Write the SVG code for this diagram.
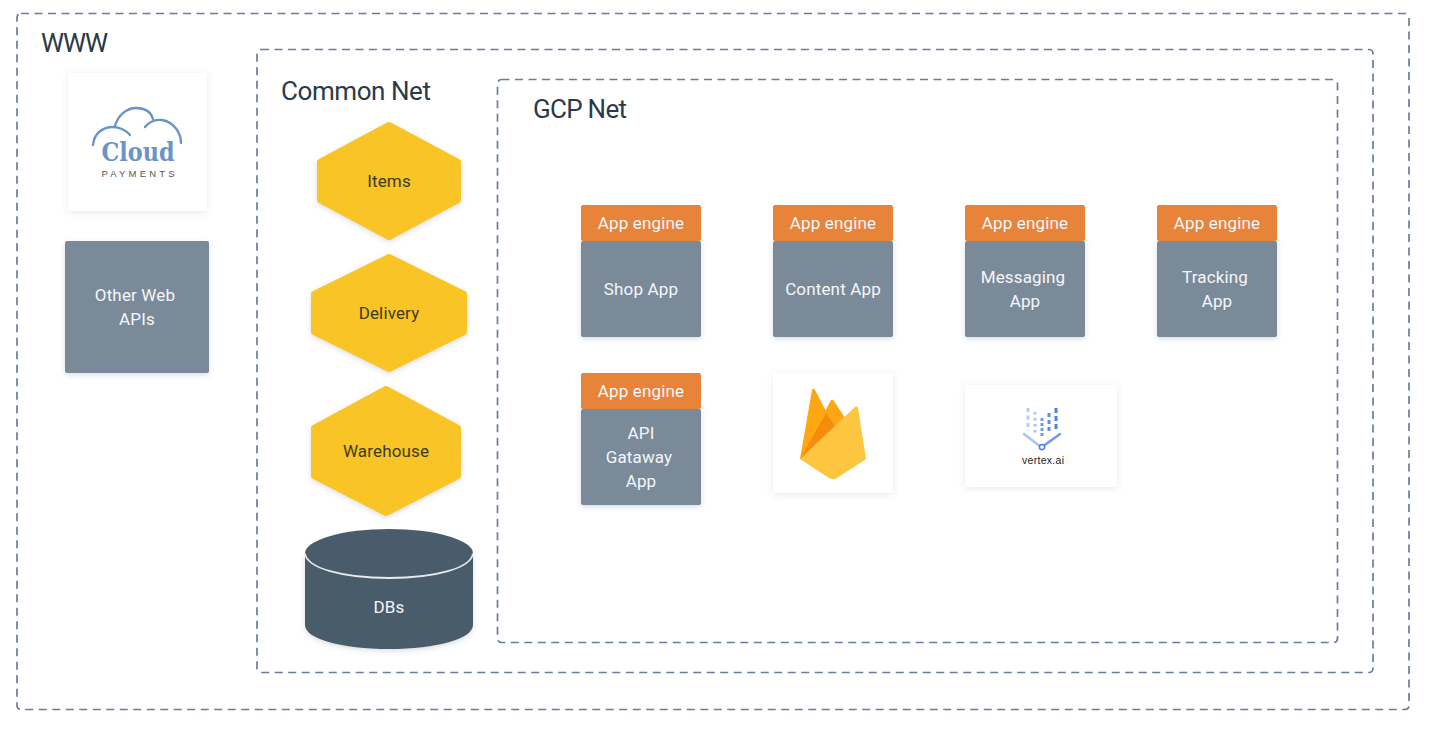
<svg xmlns="http://www.w3.org/2000/svg" width="1434" height="730" viewBox="0 0 1434 730">
<style>
text{font-family:"Roboto","Liberation Sans",sans-serif;text-anchor:middle}
.zone{fill:#fff;stroke:#6a7d9c;stroke-width:1.7;stroke-dasharray:8 5.5}
.zl{font-size:26px;fill:#2b3a48;text-anchor:start}
.t{font-size:17px;fill:#f4f7fa;letter-spacing:.15px}
.d{font-size:17px;fill:#3d3a22;letter-spacing:.15px}
.card{fill:#7a8a99;filter:url(#s)}
.tag{fill:#e8833a}
.hex{fill:#f8c425;stroke:#f8c425;stroke-width:6;stroke-linejoin:round;filter:url(#s)}
.w{fill:#fff;filter:url(#s2)}
.arc{fill:none;stroke:#6a93c8;stroke-width:2.300;stroke-linecap:round}
</style>
<defs>
<filter id="s" x="-20%" y="-20%" width="140%" height="140%"><feDropShadow dx="0" dy="2" stdDeviation="2.5" flood-color="#5a6a80" flood-opacity=".22"/></filter>
<filter id="s2" x="-20%" y="-20%" width="140%" height="140%"><feDropShadow dx="0" dy="1.5" stdDeviation="3" flood-color="#5a6a80" flood-opacity=".14"/></filter>
</defs>
<rect width="1434" height="730" fill="#fff"/>
<g id="zone-www"><rect class="zone" x="17" y="13.500" width="1392" height="696" rx="4"/><text class="zl" x="41" y="52" textLength="67">WWW</text></g>
<g id="zone-common"><rect class="zone" x="257" y="49.500" width="1116" height="623" rx="4"/><text class="zl" x="281" y="100" textLength="150">Common Net</text></g>
<g id="zone-gcp"><rect class="zone" x="497.500" y="79.500" width="840" height="563" rx="4"/><text class="zl" x="533" y="118" textLength="94">GCP Net</text></g>

<g id="cloudpayments">
<rect class="w" x="68" y="73" width="139" height="138" rx="2"/>
<path class="arc" d="M93 145C94 133 103 127 113 127C120 127 127 131 130 135"/>
<path class="arc" d="M115 126C118 115 127 108 136 108C146 108 151 112 153 119"/>
<path class="arc" d="M145 127C149 122 155 119 162 120C174 122 181 133 181 143"/>
<text x="138" y="161" style="font-family:'DejaVu Serif',serif;font-size:26px;font-weight:700;fill:#6a93c8" textLength="73" lengthAdjust="spacingAndGlyphs">Cloud</text>
<text x="138" y="177" style="font-family:'Liberation Sans',sans-serif;font-size:9.500px;fill:#555" textLength="73">PAYMENTS</text>
</g>
<g id="other-web-apis"><rect class="card" x="65" y="241" width="144" height="132" rx="2"/><text class="t" x="135" y="301">Other Web</text><text class="t" x="137" y="325">APIs</text></g>

<g id="items"><path class="hex" d="M389 125L458 162V200L389 237L320 200V162Z"/><text class="d" x="389" y="187">Items</text></g>
<g id="delivery"><path class="hex" d="M389 257L464 294V332L389 369L314 332V294Z"/><text class="d" x="389" y="319">Delivery</text></g>
<g id="warehouse"><path class="hex" d="M386 389L458 428V476L386 513L314 476V428Z"/><text class="d" x="386" y="457">Warehouse</text></g>
<g id="dbs">
<path d="M305 553V625C305 639 342 649 389 649C436 649 473 639 473 625V553Z" fill="#4a5c6b" filter="url(#s)"/>
<ellipse cx="389" cy="553.500" rx="84" ry="24.500" fill="#4a5c6b"/>
<path d="M305 553.500C307 568 342 578 389 578C436 578 471 568 473 553.500" fill="none" stroke="#e6ebef" stroke-width="1.800"/>
<text class="t" x="389" y="613">DBs</text>
</g>

<g id="shop-app"><rect class="card" x="581" y="241" width="120" height="96" rx="2"/><rect class="tag" x="581" y="205" width="120" height="36" rx="2"/><text class="t" x="641" y="229">App engine</text><text class="t" x="641" y="295">Shop App</text></g>
<g id="content-app"><rect class="card" x="773" y="241" width="120" height="96" rx="2"/><rect class="tag" x="773" y="205" width="120" height="36" rx="2"/><text class="t" x="833" y="229">App engine</text><text class="t" x="833" y="295">Content App</text></g>
<g id="messaging-app"><rect class="card" x="965" y="241" width="120" height="96" rx="2"/><rect class="tag" x="965" y="205" width="120" height="36" rx="2"/><text class="t" x="1025" y="229">App engine</text><text class="t" x="1023" y="283">Messaging</text><text class="t" x="1025" y="307">App</text></g>
<g id="tracking-app"><rect class="card" x="1157" y="241" width="120" height="96" rx="2"/><rect class="tag" x="1157" y="205" width="120" height="36" rx="2"/><text class="t" x="1217" y="229">App engine</text><text class="t" x="1215" y="283">Tracking</text><text class="t" x="1217" y="307">App</text></g>
<g id="api-gateway-app"><rect class="card" x="581" y="409" width="120" height="96" rx="2"/><rect class="tag" x="581" y="373" width="120" height="36" rx="2"/><text class="t" x="641" y="397">App engine</text><text class="t" x="641" y="439">API</text><text class="t" x="639" y="463">Gataway</text><text class="t" x="641" y="487">App</text></g>

<g id="firebase">
<rect class="w" x="773" y="373" width="120" height="120" rx="2"/>
<path d="M800 459L812 390Q813 387 815 390L827 413L835 424Z" fill="#ffa712"/>
<path d="M800 459L831 400Q833 399 834 401L845 418L835 430Z" fill="#ffa712"/>
<path d="M800 459L826 413L835 426L834 430Z" fill="#f58c0c"/>
<path d="M800 459L855 407Q857 405 858 408L866 459L837 478Q833 480 829 478Z" fill="#fec53e"/>
</g>
<g id="vertex-ai">
<rect class="w" x="965" y="385" width="152" height="102" rx="2"/>
<path d="M1024 434L1041 447" fill="none" stroke="#a9c4f5" stroke-width="2.600" stroke-linecap="round"/>
<path d="M1060 434L1042 447" fill="none" stroke="#6f9bef" stroke-width="2.600" stroke-linecap="round"/>
<circle cx="1042" cy="447" r="2.600" fill="#fff" stroke="#4a7fe0" stroke-width="1.500"/>
<path d="M1028 408V431" stroke="#b6cdf6" stroke-width="3" stroke-dasharray="4 3.500" fill="none"/>
<path d="M1035 412V433" stroke="#a9c4f5" stroke-width="3" stroke-dasharray="2.500 3.500" fill="none"/>
<path d="M1042 418V436" stroke="#6f9bef" stroke-width="3" stroke-dasharray="3 2" fill="none"/>
<path d="M1049 413V434" stroke="#5f8fe6" stroke-width="3" stroke-dasharray="4 3" fill="none"/>
<path d="M1056 408V431" stroke="#4e82e2" stroke-width="3" stroke-dasharray="5 3" fill="none"/>
<text x="1043" y="464" style="font-family:'Liberation Sans',sans-serif;font-size:10.500px;fill:#222" textLength="42">vertex.ai</text>
</g>
</svg>
